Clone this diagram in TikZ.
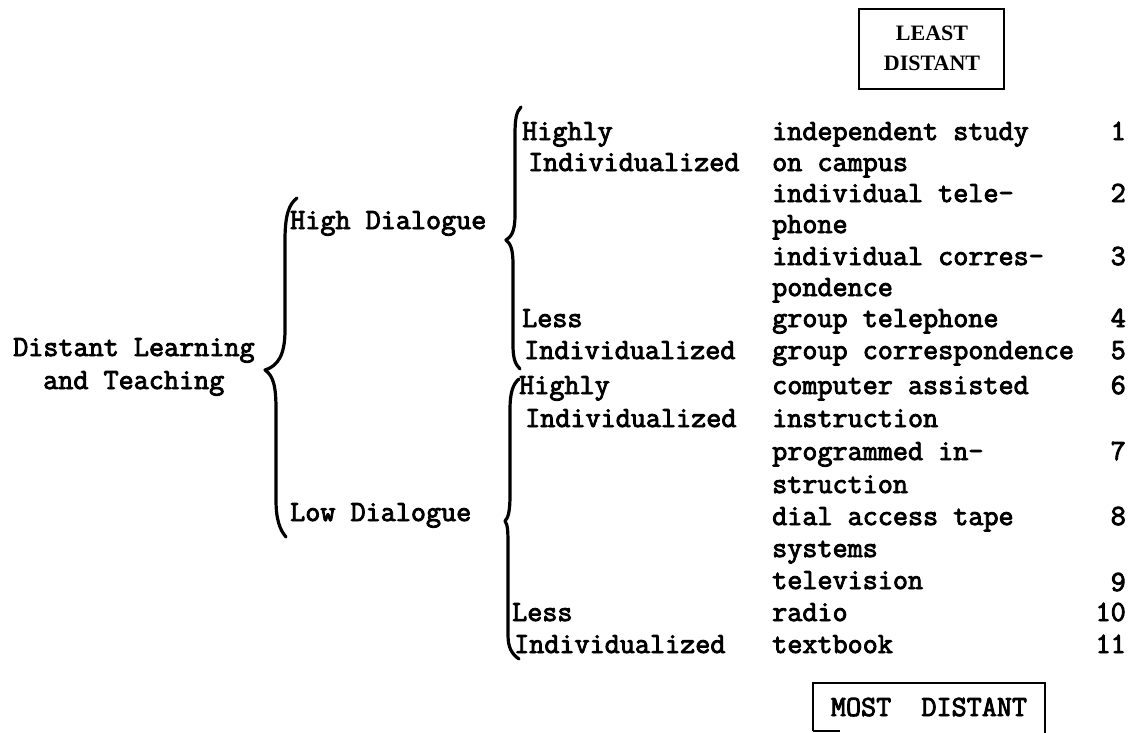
\documentclass[tikz,border=0pt]{standalone}
\usepackage{fontspec}
\newfontfamily\twf{Latin Modern Mono}[FakeBold=3]
\newfontfamily\boxf{Liberation Serif}
\tikzset{
  tw/.style={font=\twf\fontsize{29.3}{30}\selectfont, inner sep=0pt, anchor=base west},
  nm/.style={tw, anchor=base east},
  brc/.style={line width=3.2pt, line cap=round, line join=round},
  bxl/.style={line width=2.2pt, line join=miter},
  serifbox/.style={font=\boxf\bfseries\fontsize{22}{30}\selectfont, align=center, inner sep=0pt},
}
\begin{document}
\begin{tikzpicture}[x=1pt,y=-1pt]
\useasboundingbox[fill=white] (0,0) rectangle (1129,732);

% level 0
\node[tw] (dl) at (13,356) {Distant Learning};
\node[tw] (at) at (43,389) {and Teaching};

% level 1
\node[tw] (hd) at (290,229) {High Dialogue};
\node[tw] (ld) at (290,521) {Low Dialogue};

% level 2
\node[tw] (h1) at (522,140) {Highly};
\node[tw] (i1) at (528,171) {Individualized};
\node[tw] (l1) at (522,327) {Less};
\node[tw] (i2) at (524,359) {Individualized};
\node[tw] (h2) at (519,394) {Highly};
\node[tw] (i3) at (525,427) {Individualized};
\node[tw] (l2) at (512,621) {Less};
\node[tw] (i4) at (514,653) {Individualized};

% items
\node[tw] (c1)  at (772,140) {independent study};
\node[tw] (c2)  at (772,171) {on campus};
\node[tw] (c3)  at (772,202) {individual tele-};
\node[tw] (c4)  at (772,233) {phone};
\node[tw] (c5)  at (772,265) {individual corres-};
\node[tw] (c6)  at (772,296) {pondence};
\node[tw] (c7)  at (772,327) {group telephone};
\node[tw] (c8)  at (772,359) {group correspondence};
\node[tw] (c9)  at (772,394) {computer assisted};
\node[tw] (c10) at (772,427) {instruction};
\node[tw] (c11) at (772,460) {programmed in-};
\node[tw] (c12) at (772,493) {struction};
\node[tw] (c13) at (772,525) {dial access tape};
\node[tw] (c14) at (772,557) {systems};
\node[tw] (c15) at (772,589) {television};
\node[tw] (c16) at (772,621) {radio};
\node[tw] (c17) at (772,653) {textbook};

% numbers
\node[nm] (n1)  at (1126,140) {1};
\node[nm] (n2)  at (1126,202) {2};
\node[nm] (n3)  at (1126,265) {3};
\node[nm] (n4)  at (1126,327) {4};
\node[nm] (n5)  at (1126,359) {5};
\node[nm] (n6)  at (1126,394) {6};
\node[nm] (n7)  at (1126,460) {7};
\node[nm] (n8)  at (1126,525) {8};
\node[nm] (n9)  at (1126,591) {9};
\node[nm] (n10) at (1126,621) {10};
\node[nm] (n11) at (1126,653) {11};

% braces
\draw[brc] (297,198) .. controls (289,204) and (285,215) .. (285,240) -- (285,330)
  .. controls (285,355) and (278,366) .. (265,370)
  .. controls (274,376) and (276,388) .. (276,410) -- (276,500)
  .. controls (276,520) and (280,530) .. (286,537);
\draw[brc] (521,107) .. controls (516,112) and (515,120) .. (515,135) -- (515,215)
  .. controls (515,232) and (511,237) .. (506,240)
  .. controls (511,244) and (513,250) .. (513,265) -- (513,345)
  .. controls (513,358) and (515,364) .. (520,369);
\draw[brc] (519,379) .. controls (513,384) and (510,392) .. (510,410) -- (510,495)
  .. controls (510,512) and (508,518) .. (505,521)
  .. controls (508,525) and (508,532) .. (508,550) -- (508,635)
  .. controls (508,648) and (512,654) .. (519,659);

% LEAST DISTANT box
\node[draw, bxl, minimum width=145pt, minimum height=80pt, inner sep=0pt] (least) at (931.5,49) {};
\node[serifbox] (leasttxt) at (932,48) {LEAST\\DISTANT};

% MOST DISTANT box
\coordinate (mbl) at (813,731);
\coordinate (mtl) at (813,683);
\coordinate (mtr) at (1045,683);
\coordinate (mbr) at (1045,733);
\draw[bxl] (mbl) -- (mtl) -- (mtr) -- (mbr);
\draw[bxl] (mbl) -- ++(27,0);
\node[tw, anchor=base] (most) at (929,716) {MOST\ \ DISTANT};
\end{tikzpicture}
\end{document}
